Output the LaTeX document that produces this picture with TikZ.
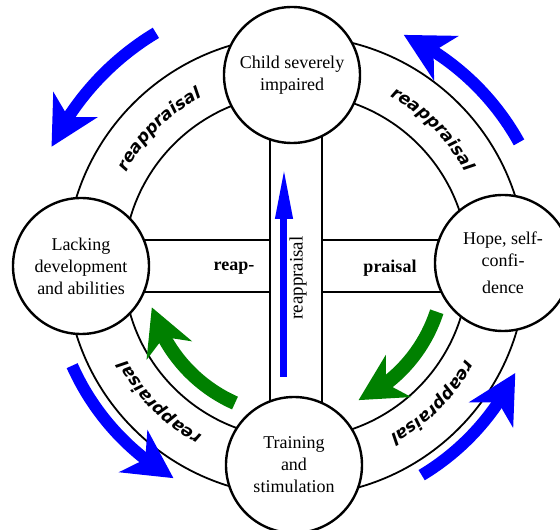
\documentclass[tikz,border=0pt]{standalone}
\usepackage{fontspec}
\setmainfont{Liberation Serif}
\newfontfamily\ringfont{DejaVu Sans}
\usetikzlibrary{arrows.meta,bending,decorations.text}
\newcommand\ringtxt{\ringfont\bfseries\itshape\fontsize{17}{20}\selectfont}

\begin{document}
\begin{tikzpicture}[x=1pt,y=1pt,
  bub/.style={circle,draw,line width=2.4pt,fill=white,minimum size=136pt,inner sep=0pt,
    align=center,font=\fontsize{18}{22}\selectfont},
  band/.style={draw,line width=1.8pt,fill=white},
  bluearr/.style={blue,line width=12pt,-{Stealth[length=48pt,width=50pt,inset=14pt]}},
  greenarr/.style={green!50!black,line width=14pt,-{Stealth[length=46pt,width=48pt,inset=14pt]}},
  ringlab/.style={decorate,decoration={text along path,text align=center,
    text={|\ringtxt|reappraisal}}}]
  \useasboundingbox (-296,-264) rectangle (264,266);
  \coordinate (c) at (0,0);
  \coordinate (pchild) at (-4,191);
  \coordinate (plack) at (-215,0);
  \coordinate (phope) at (207,3);
  \coordinate (ptrain) at (-2,-199);
  % ring
  \draw[line width=1.8pt] (c) circle[radius=230] (c) circle[radius=172.5];
  % cross
  \path[band] (plack |- 0,-26) rectangle (phope |- 0,26);
  \path[band] (ptrain -| -26,0) rectangle (pchild -| 26,0);
  \draw[blue,line width=7pt,-{Triangle[length=52pt,width=16pt]}] (-12,-111) -- (-12,99);
  \node[rotate=90,font=\fontsize{19}{22}\selectfont] (vlab) at (2,-12) {reappraisal};
  \node[font=\bfseries\fontsize{18}{22}\selectfont] (reap) at (-62,-2) {reap-};
  \node[font=\bfseries\fontsize{18}{22}\selectfont] (praisal) at (94,-2) {praisal};
  % the four states
  \node[bub] (child) at (pchild) {Child severely\\impaired};
  \node[bub] (lack) at (plack) {Lacking\\development\\and abilities};
  \node[bub] (hope) at (phope) {Hope, self-\\confi-\\[5pt]dence};
  \node[bub] (train) at (ptrain) {Training\\and\\stimulation};
  % ring labels
  \path[ringlab] (c) ++(180:194) arc[start angle=180,end angle=90,radius=194];
  \path[ringlab] (c) ++(90:194) arc[start angle=90,end angle=0,radius=194];
  \path[ringlab] (c) ++(0:194) arc[start angle=0,end angle=-90,radius=194];
  \path[ringlab] (c) ++(-90:194) arc[start angle=-90,end angle=-180,radius=194];
  % arrows
  \draw[bluearr] (c) ++(121:272) arc[start angle=121,end angle=154,radius=272];
  \draw[bluearr] (c) ++(29:255) arc[start angle=29,end angle=65,radius=255];
  \draw[bluearr] (c) ++(204:245) arc[start angle=204,end angle=240,radius=245];
  \draw[bluearr] (c) ++(-59:244) arc[start angle=-59,end angle=-26,radius=244];
  \draw[greenarr] (c) ++(246:150) arc[start angle=246,end angle=196,radius=150];
  \draw[greenarr] (c) ++(-18:148) arc[start angle=-18,end angle=-65,radius=148];
\end{tikzpicture}
\end{document}
